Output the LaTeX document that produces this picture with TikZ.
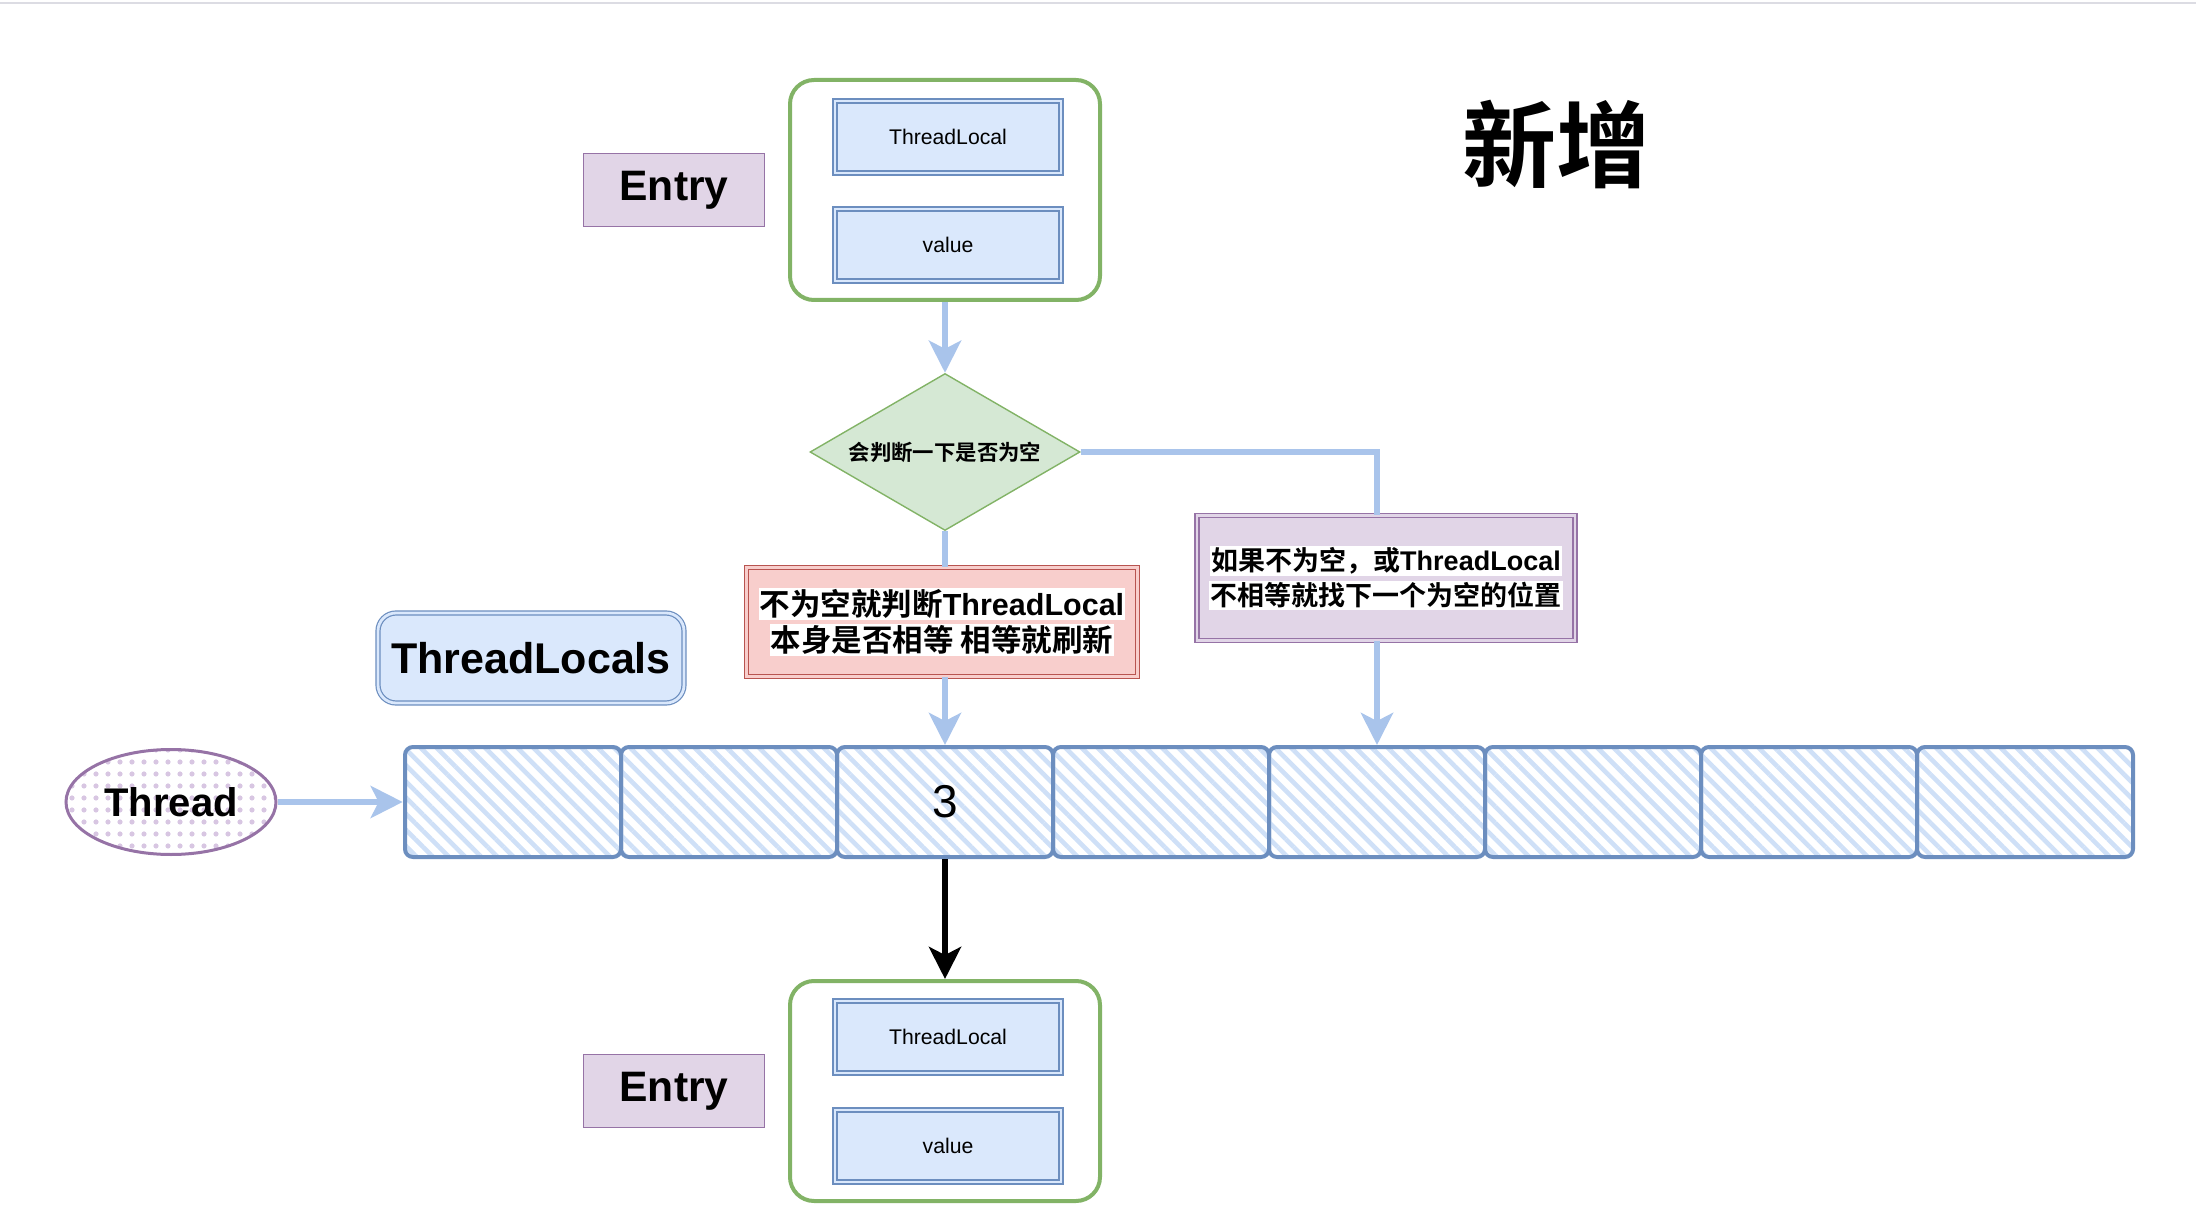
\documentclass[tikz,border=0pt]{standalone}
\usepackage{fontspec}
\setmainfont{Liberation Sans}
\newfontfamily\cjk{Noto Sans CJK SC}[BoldFont={Noto Sans CJK SC Bold}]
\usetikzlibrary{shapes.geometric,positioning,arrows.meta,patterns.meta}
\definecolor{bluef}{HTML}{DAE8FC}
\definecolor{blued}{HTML}{6C8EBF}
\definecolor{purplef}{HTML}{E1D5E7}
\definecolor{purpled}{HTML}{9673A6}
\definecolor{redf}{HTML}{F8CECC}
\definecolor{redd}{HTML}{B85450}
\definecolor{greenf}{HTML}{D5E8D4}
\definecolor{greend}{HTML}{82B366}
\definecolor{arr}{HTML}{A9C4EB}
\definecolor{hatch}{HTML}{CFE0F7}
\definecolor{dotc}{HTML}{D8C6E2}
\definecolor{topline}{HTML}{DCDCE3}
\newcommand{\wbg}[1]{{\setlength{\fboxsep}{0.6pt}\colorbox{white}{#1}}}
\tikzset{
 cont/.style
  = {rectangle, draw=greend, line width=2pt, rounded corners=12pt,
     minimum width=155pt, minimum height=110pt},
 b/.style
  = {rectangle, draw=blued, fill=bluef, double=bluef, double distance=1.4pt,
     line width=0.6pt, minimum width=113pt, minimum height=36pt, inner sep=0pt,
     font=\fontsize{10.6}{12}\selectfont},
 e/.style
  = {rectangle, draw=purpled, fill=purplef, line width=0.7pt, minimum width=90.5pt,
     minimum height=36.5pt, inner sep=0pt, font=\bfseries\fontsize{21.3}{24}\selectfont},
 cell/.style
  = {rectangle, draw=blued, line width=2pt, rounded corners=4pt, minimum width=108pt,
     minimum height=55pt, inner sep=0pt,
     pattern={Lines[angle=-45,distance=5.7pt,line width=2.3pt]}, pattern color=hatch},
 note/.style
  = {rectangle, double distance=1.4pt, line width=0.6pt, inner sep=0pt, align=center},
 l/.style
  = {draw=arr, line width=3pt, -{Stealth[length=16pt,width=16pt,inset=4pt]}},
 ln/.style
  = {draw=arr, line width=3pt},
}
\begin{document}
\begin{tikzpicture}[x=0.5pt,y=-0.5pt]
\useasboundingbox (0,0) rectangle (2196,1230);

% top rule
\fill[topline] (0,2) rectangle (2196,4.5);

% title
\node[font=\cjk\bfseries\fontsize{47}{50}\selectfont] (title) at (1556,145) {新增};

% Entry (top)
\node[cont] (E1) at (945,190) {};
\node[b] (TL1) at (948,137) {ThreadLocal};
\node[b] (V1) at (948,245) {value};
\node[e] (EL1) at (674,190) {Entry};

% check
\node[diamond, aspect=1.72, draw=greend, fill=greenf, line width=0.7pt, minimum width=135pt,
      minimum height=78.5pt, inner sep=0pt,
      font=\cjk\bfseries\fontsize{10.7}{12}\selectfont] (D) at (945,452) {会判断一下是否为空};

% equal -> refresh
\node[note, draw=redd, fill=redf, double=redf, minimum width=195.5pt, minimum height=54.5pt,
      font=\bfseries\fontsize{15.25}{18}\selectfont] (R) at (942,622)
      {\wbg{{\cjk 不为空就判断}ThreadLocal}\\\wbg{\cjk 本身是否相等 相等就刷新}};

% not equal -> next slot
\node[note, draw=purpled, fill=purplef, double=purplef, minimum width=189pt, minimum height=62.5pt,
      font=\bfseries\fontsize{13.5}{17.5}\selectfont] (P) at (1386,578)
      {\wbg{{\cjk 如果不为空，或}ThreadLocal}\\\wbg{\cjk 不相等就找下一个为空的位置}};

% ThreadLocals label
\node[rectangle, draw=blued, fill=bluef, double=bluef, double distance=1.4pt, line width=0.6pt,
      rounded corners=9pt, minimum width=153pt, minimum height=45pt, inner sep=0pt,
      font=\bfseries\fontsize{21.5}{24}\selectfont] (TLS) at (531,658) {ThreadLocals};

% Thread
\node[ellipse, draw=purpled, line width=1.5pt, minimum width=105pt, minimum height=52.5pt,
      inner sep=0pt, pattern={Dots[distance=6pt,radius=1.3pt]}, pattern color=dotc] (Th) at (171,802) {};
\node[font=\bfseries\fontsize{20}{24}\selectfont] (ThT) at (Th) {Thread};

% table slots
\foreach \i in {1,...,8}
  \node[cell] (C\i) at ({297+216*\i},802) {};
\node[font=\fontsize{23}{26}\selectfont] (N3) at (C3) {3};

% Entry (bottom)
\node[cont] (E2) at (945,1091) {};
\node[b] (TL2) at (948,1037) {ThreadLocal};
\node[b] (V2) at (948,1146) {value};
\node[e] (EL2) at (674,1091) {Entry};

% connectors
\draw[l] (E1) -- (D);
\draw[ln] (D) -- (D |- R.north);
\draw[ln] (D.east) -| (C5 |- P.north);
\draw[l] (D |- R.south) -- (C3);
\draw[l] (C5 |- P.south) -- (C5);
\draw[l] (Th) -- (C1);
\draw[l, draw=black] (C3) -- (E2);

\end{tikzpicture}
\end{document}
